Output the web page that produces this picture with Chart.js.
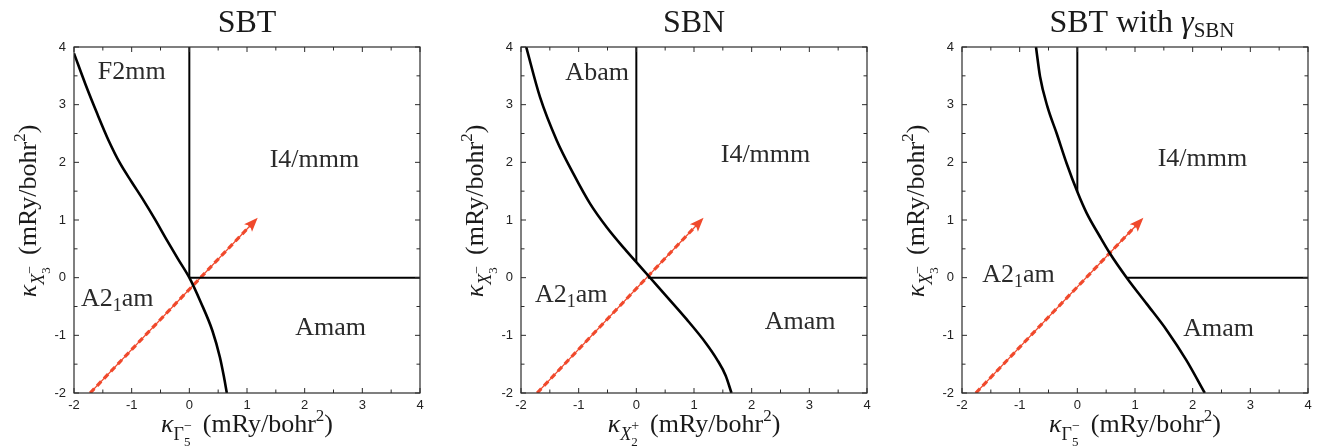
<!DOCTYPE html>
<html>
<head>
<meta charset="utf-8">
<script src="https://cdn.jsdelivr.net/npm/chart.js@4.4.1/dist/chart.umd.min.js"></script>
<style>
  body { margin: 0; background: #fff; }
  .wrap { position: relative; width: 1317px; height: 447px; overflow: hidden; }
  .panel { position: absolute; top: 0; }
</style>
</head>
<body>
<div class="wrap">
  <div class="panel" style="left:0px"><canvas id="sbt" width="429" height="447"></canvas></div>
  <div class="panel" style="left:447px"><canvas id="sbn" width="429" height="447"></canvas></div>
  <div class="panel" style="left:888px"><canvas id="sbtg" width="429" height="447"></canvas></div>
</div>
<script>
// axes
const tickValues = [-2, -1, 0, 1, 2, 3, 4];
const minorTicks = [-1.5, -0.5, 0.5, 1.5, 2.5, 3.5];

// SBT phase boundary
const sbtCurveX = [-2.0, -1.8, -1.6, -1.4, -1.2, -1.0, -0.8, -0.6, -0.4, -0.2, 0.0, 0.2, 0.4, 0.53, 0.6, 0.65];
const sbtCurveY = [3.89, 3.35, 2.85, 2.38, 1.98, 1.66, 1.35, 1.02, 0.67, 0.33, 0.0, -0.43, -0.92, -1.38, -1.72, -2.0];
const sbtVertX = [0, 0], sbtVertY = [0, 4];
const sbtHorzX = [0, 4], sbtHorzY = [0, 0];
const sbtArrowX = [-1.72, 1.15], sbtArrowY = [-2, 1.0];

// SBN phase boundary
const sbnCurveX = [-1.91, -1.67, -1.38, -1.09, -0.80, -0.51, -0.23, 0.0, 0.22, 0.52, 0.87, 1.21, 1.40, 1.55, 1.65];
const sbnCurveY = [4.0, 3.13, 2.38, 1.80, 1.28, 0.87, 0.53, 0.27, 0.02, -0.32, -0.72, -1.14, -1.42, -1.70, -2.0];
const sbnVertX = [0, 0], sbnVertY = [0.28, 4];
const sbnHorzX = [0.2, 4], sbnHorzY = [0, 0];
const sbnArrowX = [-1.72, 1.13], sbnArrowY = [-2, 1.0];

// SBT with gamma_SBN
const sbtgCurveX = [-0.717, -0.647, -0.52, -0.358, -0.185, 0.0, 0.162, 0.393, 0.566, 0.856, 1.2, 1.55, 1.89, 2.21];
const sbtgCurveY = [4.0, 3.49, 2.97, 2.5, 1.98, 1.49, 1.12, 0.71, 0.42, 0.0, -0.45, -0.91, -1.43, -2.0];
const sbtgVertX = [0, 0], sbtgVertY = [1.49, 4];
const sbtgHorzX = [0.856, 4], sbtgHorzY = [0, 0];
const sbtgArrowX = [-1.76, 1.11], sbtgArrowY = [-2, 1.0];

// phase names and where they sit
const sbtPhases = ['F2mm', 'I4/mmm', 'A2_1am', 'Amam'];
const sbtPhaseX = [-1.0, 2.17, -1.25, 2.45];
const sbtPhaseY = [3.59, 2.05, -0.36, -0.85];
const sbnPhases = ['Abam', 'I4/mmm', 'A2_1am', 'Amam'];
const sbnPhaseX = [-0.68, 2.24, -1.13, 2.84];
const sbnPhaseY = [3.57, 2.14, -0.29, -0.75];
const sbtgPhases = ['I4/mmm', 'A2_1am', 'Amam'];
const sbtgPhaseX = [2.17, -1.02, 2.45];
const sbtgPhaseY = [2.07, 0.06, -0.87];

const SERIF = '"Liberation Serif", "Times New Roman", serif';
const SANS = '"Liberation Sans", Arial, sans-serif';
const RED = '#f0492c';

function pts(xs, ys) {
    return xs.map((x, i) => ({ x: x, y: ys[i] }));
}

// rich text helpers (sub/superscripts)
function segWidth(ctx, s) {
    if (s.gap) return s.gap;
    if (s.stack) return Math.max(...s.stack.map(p => { ctx.font = p.f; return ctx.measureText(p.t).width; }));
    ctx.font = s.f;
    return ctx.measureText(s.t).width;
}
function drawRich(ctx, segs, cx, cy, angle, color) {
    ctx.save();
    ctx.translate(cx, cy);
    ctx.rotate(angle);
    ctx.fillStyle = color;
    ctx.textAlign = 'left';
    ctx.textBaseline = 'alphabetic';
    let w = 0;
    segs.forEach(s => { w += segWidth(ctx, s); });
    let x = -w / 2;
    segs.forEach(s => {
        const sw = segWidth(ctx, s);
        const parts = s.stack ? s.stack : (s.gap ? [] : [s]);
        parts.forEach(p => {
            ctx.font = p.f;
            ctx.fillText(p.t, x + (p.dx || 0), p.dy || 0);
        });
        x += sw;
    });
    ctx.restore();
}

function phaseSegs(name, size) {
    const main = size + 'px ' + SERIF;
    const sub = Math.round(size * 0.7) + 'px ' + SERIF;
    if (name.indexOf('_') < 0) return [{ t: name, f: main }];
    const a = name.split('_');
    return [{ t: a[0], f: main }, { t: a[1].charAt(0), f: sub, dy: 5 }, { t: a[1].slice(1), f: main }];
}

function kappaSegs(sym, symItalic, idx, sign) {
    const big = '26px ' + SERIF;
    return [
        { t: 'κ', f: 'italic ' + big },
        { t: sym, f: (symItalic ? 'italic ' : '') + '18px ' + SERIF, dy: 8 },
        { stack: [{ t: sign, f: '14px ' + SERIF, dy: -2 }, { t: idx, f: '13px ' + SERIF, dy: 14 }] },
        { gap: 11 },
        { t: '(mRy/bohr', f: big },
        { t: '2', f: '17px ' + SERIF, dy: -11 },
        { t: ')', f: big }
    ];
}

const decorPlugin = {
    id: 'decor',
    afterDatasetsDraw(chart, args, opts) {
        const ctx = chart.ctx;
        const xs = chart.scales.x, ys = chart.scales.y;
        const area = chart.chartArea;

        // arrow head at the end of the red line
        const arrow = chart.data.datasets[3].data;
        const p0 = { x: xs.getPixelForValue(arrow[0].x), y: ys.getPixelForValue(arrow[0].y) };
        const p1 = { x: xs.getPixelForValue(arrow[1].x), y: ys.getPixelForValue(arrow[1].y) };
        const ang = Math.atan2(p1.y - p0.y, p1.x - p0.x);
        const tip = { x: p1.x + 3 * Math.cos(ang), y: p1.y + 3 * Math.sin(ang) };
        const len = 14, half = 5.5;
        const bx = tip.x - len * Math.cos(ang), by = tip.y - len * Math.sin(ang);
        ctx.save();
        ctx.fillStyle = RED;
        ctx.beginPath();
        ctx.moveTo(tip.x, tip.y);
        ctx.lineTo(bx + half * Math.sin(ang), by - half * Math.cos(ang));
        ctx.lineTo(bx + 3 * Math.cos(ang), by + 3 * Math.sin(ang));
        ctx.lineTo(bx - half * Math.sin(ang), by + half * Math.cos(ang));
        ctx.closePath();
        ctx.fill();
        ctx.restore();

        // frame + inward ticks on all four sides
        ctx.save();
        ctx.strokeStyle = '#2b2b2b';
        ctx.lineWidth = 1.2;
        ctx.strokeRect(area.left, area.top, area.right - area.left, area.bottom - area.top);
        ctx.lineWidth = 1;
        const tick = (vals, l) => {
            vals.forEach(v => {
                const px = xs.getPixelForValue(v), py = ys.getPixelForValue(v);
                ctx.beginPath();
                ctx.moveTo(px, area.bottom); ctx.lineTo(px, area.bottom - l);
                ctx.moveTo(px, area.top); ctx.lineTo(px, area.top + l);
                ctx.moveTo(area.left, py); ctx.lineTo(area.left + l, py);
                ctx.moveTo(area.right, py); ctx.lineTo(area.right - l, py);
                ctx.stroke();
            });
        };
        tick(tickValues, 5);
        tick(minorTicks, 3.5);
        ctx.restore();

        // phase labels
        opts.names.forEach((n, i) => {
            drawRich(ctx, phaseSegs(n, 26), xs.getPixelForValue(opts.lx[i]), ys.getPixelForValue(opts.ly[i]) + 8, 0, '#2a2a2a');
        });

        // titles
        const cx = (area.left + area.right) / 2;
        drawRich(ctx, opts.title, cx + (opts.titleShift || 0), 32, 0, '#1a1a1a');
        drawRich(ctx, opts.xTitle, cx, 432, 0, '#1a1a1a');
        drawRich(ctx, opts.yTitle, area.left - 38, (area.top + area.bottom) / 2 - 9, -Math.PI / 2, '#1a1a1a');
    }
};

function makeChart(id, curve, vert, horz, arrow, decor) {
    const ax = (w, h, pad) => ({
        type: 'linear',
        min: -2,
        max: 4,
        grid: { display: false, drawTicks: false },
        border: { display: false },
        ticks: { font: { family: SANS, size: 13 }, color: '#222', padding: pad, autoSkip: false, maxRotation: 0 },
        afterBuildTicks: s => { s.ticks = tickValues.map(v => ({ value: v })); },
        afterFit: s => { if (w) s.width = w; if (h) s.height = h; }
    });
    return new Chart(document.getElementById(id), {
        type: 'scatter',
        data: {
            datasets: [
                { data: curve, borderColor: '#000', borderWidth: 2.6, cubicInterpolationMode: 'monotone' },
                { data: vert, borderColor: '#000', borderWidth: 2 },
                { data: horz, borderColor: '#000', borderWidth: 2 },
                { data: arrow, borderColor: RED, borderWidth: 1.2 },
                { data: arrow, borderColor: RED, borderWidth: 3.2, borderDash: [6, 4] }
            ].map(d => Object.assign({ showLine: true, pointRadius: 0, fill: false, tension: 0 }, d))
        },
        options: {
            responsive: false,
            animation: false,
            events: [],
            layout: { padding: { top: 47, right: 9, bottom: 0, left: 0 } },
            scales: { x: ax(0, 54, 5), y: ax(74, 0, 8) },
            plugins: { legend: { display: false }, tooltip: { enabled: false }, decor: decor }
        },
        plugins: [decorPlugin]
    });
}

const titleFont = '32px ' + SERIF;

makeChart('sbt', pts(sbtCurveX, sbtCurveY), pts(sbtVertX, sbtVertY), pts(sbtHorzX, sbtHorzY), pts(sbtArrowX, sbtArrowY), {
    names: sbtPhases, lx: sbtPhaseX, ly: sbtPhaseY,
    title: [{ t: 'SBT', f: titleFont }],
    xTitle: kappaSegs('Γ', false, '5', '−'),
    yTitle: kappaSegs('X', true, '3', '−')
});

makeChart('sbn', pts(sbnCurveX, sbnCurveY), pts(sbnVertX, sbnVertY), pts(sbnHorzX, sbnHorzY), pts(sbnArrowX, sbnArrowY), {
    names: sbnPhases, lx: sbnPhaseX, ly: sbnPhaseY,
    title: [{ t: 'SBN', f: titleFont }],
    xTitle: kappaSegs('X', true, '2', '+'),
    yTitle: kappaSegs('X', true, '3', '−')
});

makeChart('sbtg', pts(sbtgCurveX, sbtgCurveY), pts(sbtgVertX, sbtgVertY), pts(sbtgHorzX, sbtgHorzY), pts(sbtgArrowX, sbtgArrowY), {
    names: sbtgPhases, lx: sbtgPhaseX, ly: sbtgPhaseY,
    title: [{ t: 'SBT with ', f: titleFont }, { t: 'γ', f: 'italic ' + titleFont }, { t: 'SBN', f: '21px ' + SERIF, dy: 5 }],
    titleShift: 7,
    xTitle: kappaSegs('Γ', false, '5', '−'),
    yTitle: kappaSegs('X', true, '3', '−')
});
</script>
</body>
</html>
